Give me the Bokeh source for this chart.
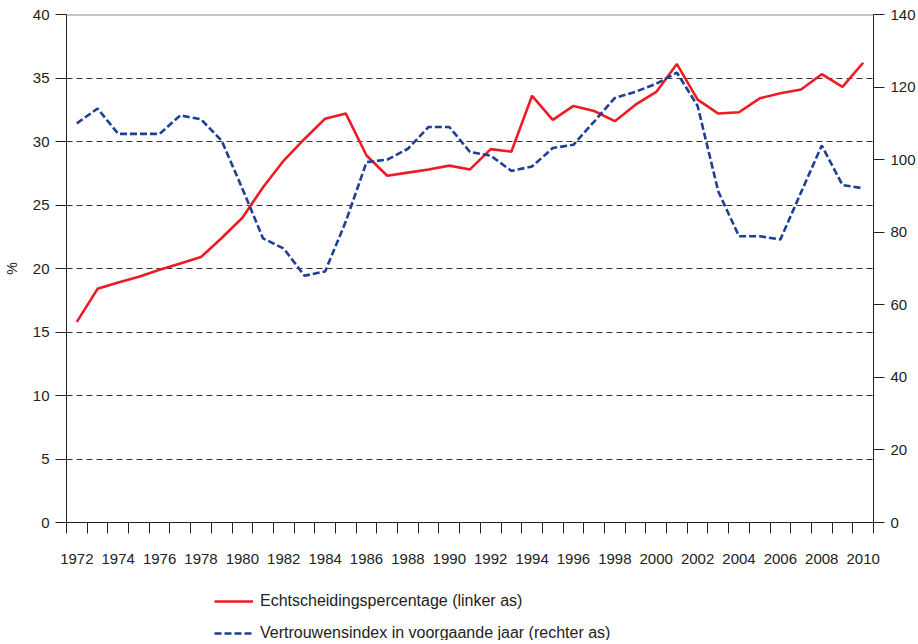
from bokeh.plotting import figure
from bokeh.models import Range1d, LinearAxis, FixedTicker, Span, Legend, LegendItem
from bokeh.layouts import column
from bokeh.embed import file_html
from bokeh.resources import INLINE

years = list(range(1972, 2011))
divorce_pct = [15.8, 18.4, 18.9, 19.35, 19.9, 20.4, 20.9, 22.4, 24.0, 26.4,
               28.5, 30.2, 31.8, 32.2, 28.9, 27.3, 27.55, 27.8, 28.1, 27.8,
               29.4, 29.2, 33.6, 31.7, 32.8, 32.4, 31.6, 32.9, 33.9, 36.1,
               33.3, 32.2, 32.3, 33.4, 33.8, 34.1, 35.3, 34.3, 36.2]
confidence_idx = [110.0, 114.1, 107.1, 107.1, 107.1, 112.2, 111.1, 105.2, 92.0, 78.3,
                  75.5, 68.0, 69.2, 83.0, 99.3, 100.0, 103.0, 109.0, 109.0, 102.1,
                  101.1, 96.9, 98.1, 103.2, 104.1, 110.5, 117.0, 118.7, 120.9, 124.0,
                  114.8, 91.2, 78.9, 78.9, 78.0, 91.0, 103.9, 93.0, 92.1]
x_tick_years = list(range(1972, 2011, 2))
left_ticks = [0, 5, 10, 15, 20, 25, 30, 35, 40]
right_ticks = [0, 20, 40, 60, 80, 100, 120, 140]
label_red = "Echtscheidingspercentage (linker as)"
label_blue = "Vertrouwensindex in voorgaande jaar (rechter as)"

FONT = "Liberation Sans"
RED = "#ED1C24"
BLUE = "#1E3F96"
AX = "#222222"
RED_STYLE = dict(line_color=RED, line_width=2.6)
BLUE_STYLE = dict(line_color=BLUE, line_width=2.6, line_dash="7 3")

W = 918
H_MAIN = 566
H_LEG = 74

p = figure(width=W, height=H_MAIN, output_backend="svg", toolbar_location=None,
           x_range=Range1d(years[0] - 0.5, years[-1] + 0.5), y_range=Range1d(0, 40),
           min_border_left=65, min_border_right=45, min_border_top=14, min_border_bottom=38)
p.extra_y_ranges = {"right": Range1d(0, 140)}
p.outline_line_color = None
p.background_fill_color = "white"
p.border_fill_color = "white"

# x axis
xa = p.xaxis[0]
xa.ticker = FixedTicker(ticks=x_tick_years, minor_ticks=[y - 0.5 for y in years] + [years[-1] + 0.5])
xa.major_tick_out = 0
xa.major_tick_in = 0
xa.minor_tick_out = 11
xa.minor_tick_in = 0
xa.minor_tick_line_color = AX
xa.axis_line_color = AX
xa.major_label_standoff = 20
xa.major_label_text_font = FONT
xa.major_label_text_font_size = "15px"
xa.major_label_text_color = "#222222"

# left axis
ya = p.yaxis[0]
ya.ticker = FixedTicker(ticks=left_ticks)
ya.major_tick_out = 11
ya.major_tick_in = 0
ya.minor_tick_out = 0
ya.minor_tick_in = 0
ya.major_tick_line_color = AX
ya.axis_line_color = AX
ya.major_label_standoff = 6
ya.major_label_text_font = FONT
ya.major_label_text_font_size = "15px"
ya.major_label_text_color = "#222222"
ya.axis_label = "%"
ya.axis_label_text_font = FONT
ya.axis_label_text_font_style = "normal"
ya.axis_label_text_font_size = "14px"
ya.axis_label_text_color = "#222222"
ya.axis_label_standoff = 10

# right axis
ra = LinearAxis(y_range_name="right", ticker=FixedTicker(ticks=right_ticks))
ra.major_tick_out = 11
ra.major_tick_in = 0
ra.minor_tick_out = 0
ra.minor_tick_in = 0
ra.major_tick_line_color = AX
ra.axis_line_color = AX
ra.major_label_standoff = 6
ra.major_label_text_font = FONT
ra.major_label_text_font_size = "15px"
ra.major_label_text_color = "#222222"
p.add_layout(ra, "right")

# grid
p.xgrid.visible = False
p.ygrid.ticker = FixedTicker(ticks=left_ticks[1:-1])
p.ygrid.grid_line_color = "#333333"
p.ygrid.grid_line_dash = "6 4"
p.ygrid.grid_line_width = 1

top = Span(location=40, dimension="width", line_color="#8a8a8a", line_width=2)
p.add_layout(top)

p.line(years, divorce_pct, **RED_STYLE)
p.line(years, confidence_idx, y_range_name="right", **BLUE_STYLE)

# legend strip below the chart (series drawn off-range, only their legend glyphs show)
pl = figure(width=W, height=H_LEG, output_backend="svg", toolbar_location=None,
            x_range=Range1d(0, 1), y_range=Range1d(0, 1),
            x_axis_type=None, y_axis_type=None,
            min_border_left=0, min_border_right=0, min_border_top=0, min_border_bottom=0)
pl.outline_line_color = None
l1 = pl.line(years, divorce_pct, **RED_STYLE)
l2 = pl.line(years, confidence_idx, **BLUE_STYLE)

legend = Legend(items=[LegendItem(label=label_red, renderers=[l1]),
                       LegendItem(label=label_blue, renderers=[l2])],
                location=(148, -2))
legend.border_line_color = None
legend.background_fill_alpha = 0
legend.label_text_font = FONT
legend.label_text_font_size = "16px"
legend.label_text_color = "#222222"
legend.glyph_width = 39
legend.glyph_height = 18
legend.label_height = 18
legend.label_standoff = 7
legend.spacing = 14
legend.padding = 0
legend.margin = 0
pl.add_layout(legend)

layout = column(p, pl, spacing=0)
open("out.html", "w").write(file_html(layout, INLINE))
